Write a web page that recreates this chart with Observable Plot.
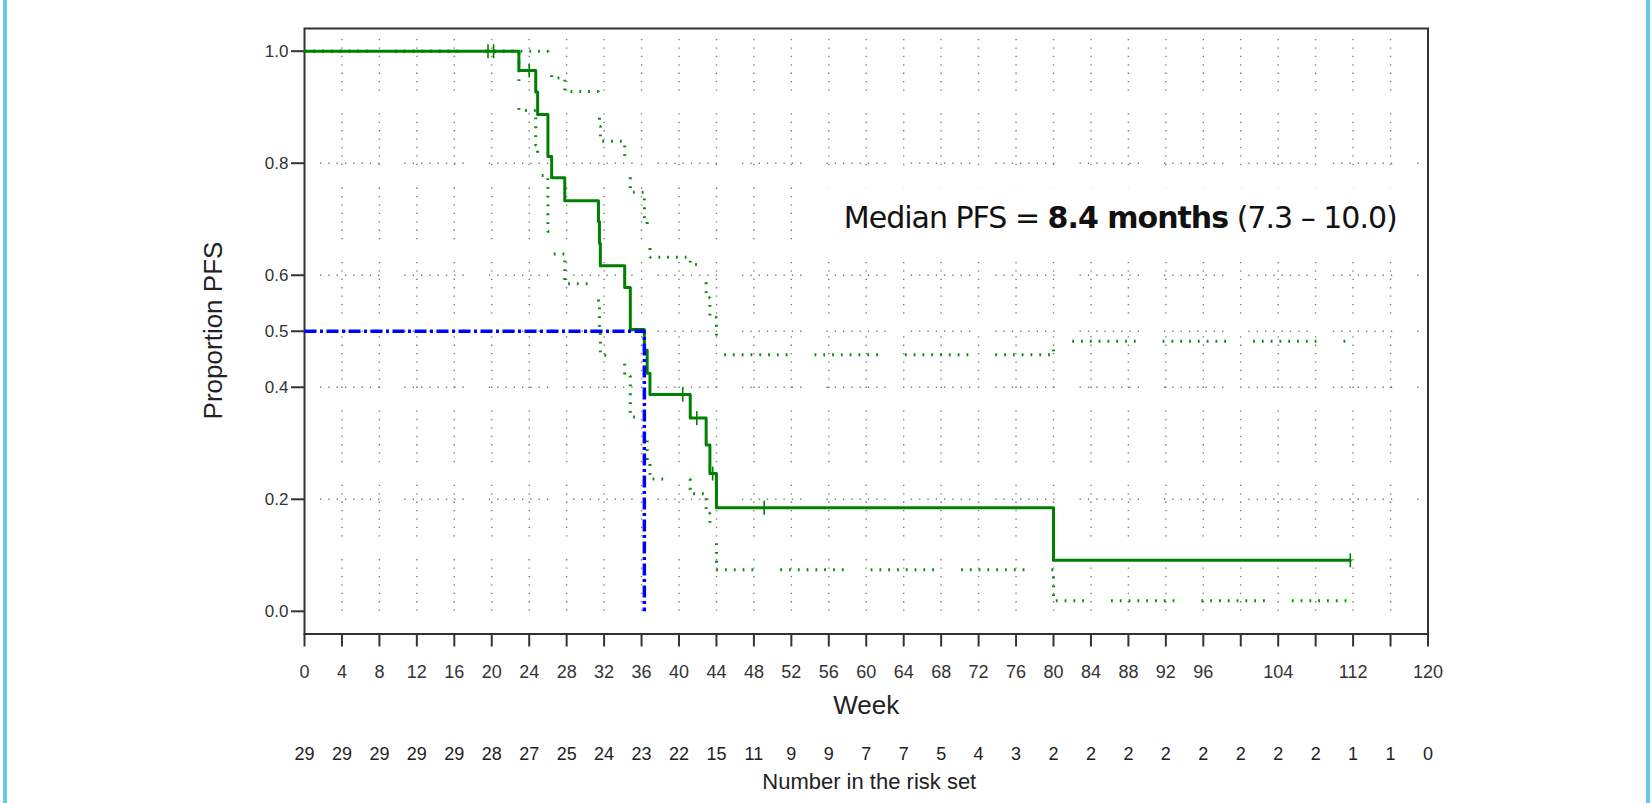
<!DOCTYPE html>
<html>
<head>
<meta charset="utf-8">
<script src="https://cdn.jsdelivr.net/npm/d3@7"></script>
<script src="https://cdn.jsdelivr.net/npm/@observablehq/plot@0.6"></script>
<style>
  html, body { margin: 0; padding: 0; background: #ffffff; }
  #wrap { position: relative; width: 1651px; height: 803px; overflow: hidden; background: #ffffff; }
  #wrap svg { position: absolute; left: 0; top: 0; }
  .bar { position: absolute; top: 0; width: 4px; height: 803px; background: #6cc5ea; }
</style>
</head>
<body>
<div id="wrap">
  <div class="bar" style="left:3px"></div>
  <div class="bar" style="left:1646px"></div>
</div>
<script>
// ---------- Data ----------
// Kaplan–Meier estimate (step function: week of change, proportion after change)
const kmWeek = [0, 22.9, 24.7, 24.9, 26.0, 26.4, 27.8, 31.4, 31.5, 31.6, 34.2, 34.8, 36.3, 36.6, 36.9, 41.2, 42.9, 43.3, 44.0, 80.0, 111.7];
const kmProp = [1.0, 0.9655, 0.927, 0.887, 0.812, 0.774, 0.733, 0.696, 0.657, 0.617, 0.578, 0.503, 0.466, 0.425, 0.387, 0.345, 0.297, 0.246, 0.185, 0.091, 0.091];

// Upper confidence limit
const upperWeek = [0, 26.0, 26.4, 27.8, 31.4, 31.5, 31.6, 34.2, 34.8, 36.3, 36.6, 36.9, 41.2, 42.9, 43.3, 44.0, 80.0, 111.7];
const upperProp = [1.0, 0.977, 0.952, 0.928, 0.895, 0.866, 0.839, 0.80, 0.748, 0.70, 0.665, 0.632, 0.619, 0.56, 0.525, 0.458, 0.482, 0.482];

// Lower confidence limit
const lowerWeek = [0, 22.9, 24.7, 24.9, 26.0, 26.4, 27.8, 31.4, 31.5, 31.6, 34.2, 34.8, 36.3, 36.6, 36.9, 41.2, 42.9, 43.3, 44.0, 80.0, 111.7];
const lowerProp = [1.0, 0.894, 0.832, 0.778, 0.678, 0.638, 0.585, 0.545, 0.505, 0.457, 0.42, 0.347, 0.305, 0.27, 0.236, 0.21, 0.175, 0.135, 0.074, 0.019, 0.019];

// Censored observations
const censorWeek = [19.6, 20.2, 24.0, 40.4, 41.9, 43.6, 49.1, 111.7];
const censorProp = [1.0, 1.0, 0.9655, 0.387, 0.345, 0.246, 0.185, 0.091];

// Median
const medianWeek = 36.3;
const medianProp = 0.5;

// Axes
const xTicks = [0, 4, 8, 12, 16, 20, 24, 28, 32, 36, 40, 44, 48, 52, 56, 60, 64, 68, 72, 76, 80, 84, 88, 92, 96, 100, 104, 108, 112, 116, 120];
const xTickLabels = [0, 4, 8, 12, 16, 20, 24, 28, 32, 36, 40, 44, 48, 52, 56, 60, 64, 68, 72, 76, 80, 84, 88, 92, 96, 104, 112, 120];
const yTicks = [0.0, 0.2, 0.4, 0.5, 0.6, 0.8, 1.0];
const yGrid = [0.2, 0.4, 0.5, 0.6, 0.8];

// Number at risk
const riskWeek = [0, 4, 8, 12, 16, 20, 24, 28, 32, 36, 40, 44, 48, 52, 56, 60, 64, 68, 72, 76, 80, 84, 88, 92, 96, 100, 104, 108, 112, 116, 120];
const riskCount = [29, 29, 29, 29, 29, 28, 27, 25, 24, 23, 22, 15, 11, 9, 9, 7, 7, 5, 4, 3, 2, 2, 2, 2, 2, 2, 2, 2, 1, 1, 0];

// Texts
const xTitle = "Week";
const yTitle = "Proportion PFS";
const riskTitle = "Number in the risk set";
const medianTextParts = ["Median PFS = ", "8.4 months", " (7.3 \u2013 10.0)"];
// annotation placement (in data units)
const annotBox = {x1: 55.5, x2: 120, y1: 0.654, y2: 0.756};
const annotAnchor = {week: 57.6, prop: 0.684};

// ---------- Build tables ----------
const km = kmWeek.map((w, i) => ({w, p: kmProp[i]}));
const upper = upperWeek.map((w, i) => ({w, p: upperProp[i]}));
const lower = lowerWeek.map((w, i) => ({w, p: lowerProp[i]}));
const censor = censorWeek.map((w, i) => ({w, p: censorProp[i]}));
const risk = riskWeek.map((w, i) => ({w, n: riskCount[i]}));
const medianPath = [{w: 0, p: medianProp}, {w: medianWeek, p: medianProp}, {w: medianWeek, p: 0}];
const gridWeeks = xTicks.filter(d => d > 0 && d < 120);

const green = "#008000";
const ciGreen = "#0e8a0e";
const tickMark = {draw(ctx, size) { const r = Math.sqrt(size / Math.PI); ctx.moveTo(0, -r); ctx.lineTo(0, r); }};

const rep = (a, n) => Array(n).fill(a).join(",");
const vGridDash = rep("1.3,7.1", 6) + ",1.3,22.6";
const hGridDash = rep("1.3,7.0", 7) + ",1.3,25";
const ciDash = rep("1.8,7", 7) + ",1.8,27";

const chart = Plot.plot({
  width: 1651,
  height: 803,
  marginLeft: 304,
  marginRight: 223.5,
  marginTop: 28,
  marginBottom: 169.5,
  style: {fontFamily: "'Liberation Sans', Arial, sans-serif", background: "transparent", overflow: "visible", color: "#333"},
  x: {domain: [0, 120], axis: null},
  y: {domain: [-0.0405, 1.0405], axis: null},
  marks: [
    // grid
    Plot.ruleX(gridWeeks, {x: d => d, insetTop: 11, insetBottom: 11, stroke: "#777", strokeWidth: 1.4, strokeDasharray: vGridDash}),
    Plot.ruleY(yGrid, {y: d => d, insetLeft: 16, insetRight: 2, stroke: "#777", strokeWidth: 1.4, strokeDasharray: hGridDash}),
    // annotation box
    Plot.rect([annotBox], {x1: "x1", x2: "x2", y1: "y1", y2: "y2", fill: "white"}),
    // frame and axes
    Plot.frame({stroke: "#333", strokeWidth: 2}),
    Plot.axisY(yTicks, {tickSize: 13, tickPadding: 3, tickFormat: d3.format(".1f"), fontSize: 17, color: "#333", strokeWidth: 2, label: null}),
    Plot.axisX(xTicks, {tickSize: 13, tickPadding: 18.7, tickFormat: d => xTickLabels.includes(d) ? String(d) : "", fontSize: 18, color: "#333", strokeWidth: 2, label: null}),
    // confidence limits
    Plot.line(upper, {x: "w", y: "p", curve: "step-after", stroke: ciGreen, strokeWidth: 3, strokeDasharray: ciDash, strokeLinecap: "butt", strokeLinejoin: "miter"}),
    Plot.line(lower, {x: "w", y: "p", curve: "step-after", stroke: ciGreen, strokeWidth: 3, strokeDasharray: ciDash, strokeLinecap: "butt", strokeLinejoin: "miter"}),
    // KM curve
    Plot.line(km, {x: "w", y: "p", curve: "step-after", stroke: green, strokeWidth: 3}),
    Plot.dot(censor, {x: "w", y: "p", r: 7, symbol: tickMark, stroke: green, strokeWidth: 1.6, fill: "none"}),
    // median line
    Plot.line(medianPath, {x: "w", y: "p", stroke: "#0000ff", strokeWidth: 3.5, strokeDasharray: "12,3.5,3,3.5", strokeLinecap: "butt", strokeLinejoin: "miter"}),
    // titles
    Plot.text([xTitle], {text: d => d, frameAnchor: "bottom", textAnchor: "middle", dy: 79.8, lineAnchor: "bottom", fontSize: 26, fill: "#222"}),
    Plot.text([yTitle], {text: d => d, frameAnchor: "left", textAnchor: "middle", dx: -82.3, dy: -0.75, rotate: -90, lineAnchor: "bottom", fontSize: 26, fill: "#222"}),
    Plot.text(risk, {x: "w", text: "n", frameAnchor: "bottom", dy: 125.8, lineAnchor: "bottom", fontSize: 18, fill: "#222"}),
    Plot.text([riskTitle], {text: d => d, frameAnchor: "bottom", textAnchor: "middle", dx: 3, dy: 154.5, lineAnchor: "bottom", fontSize: 22, fill: "#222"}),
    // annotation text
    Plot.text([annotAnchor], {x: "week", y: "prop", text: () => medianTextParts.join(""), textAnchor: "start", lineAnchor: "bottom", fontSize: 30, fontFamily: "'DejaVu Sans', Verdana, sans-serif", fill: "#111", className: "median-label"})
  ]
});

document.getElementById("wrap").appendChild(chart);

// rich text for the median annotation
const t = chart.querySelector("g.median-label text");
if (t) {
  t.textContent = "";
  t.setAttribute("style", "white-space: pre");
  medianTextParts.forEach((s, i) => {
    const ts = document.createElementNS("http://www.w3.org/2000/svg", "tspan");
    ts.textContent = s;
    if (i === 1) ts.setAttribute("font-weight", "bold");
    t.appendChild(ts);
  });
  t.setAttribute("textLength", 554);
  t.setAttribute("lengthAdjust", "spacing");
}
</script>
</body>
</html>
